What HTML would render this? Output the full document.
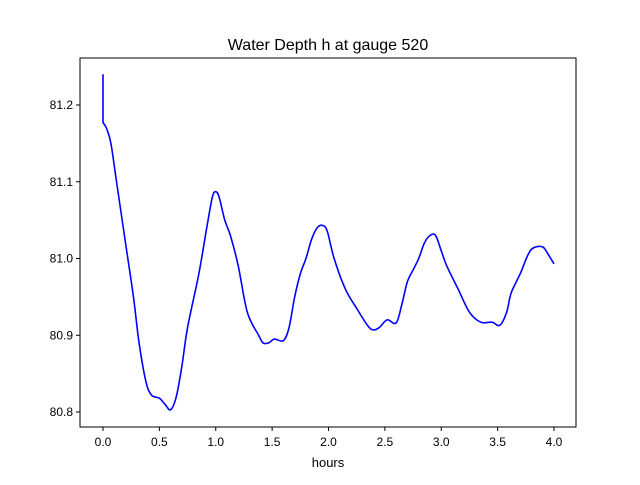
<!DOCTYPE html>
<html><head><meta charset="utf-8"><style>
body{margin:0;background:#fff}
svg text{font-family:"Liberation Sans","DejaVu Sans",sans-serif;fill:#000}
</style></head><body>
<svg id="chart" width="640" height="480" xmlns="http://www.w3.org/2000/svg">
<rect width="640" height="480" fill="#fff"/>
<text x="328" y="50" font-size="16" text-anchor="middle">Water Depth h at gauge 520</text>
<g id="ticks"></g>
<path id="line" fill="none" stroke="#0000ff" stroke-width="1.6" stroke-linejoin="round"/>
<rect x="80" y="58" width="496" height="369" fill="none" stroke="#000" stroke-width="1"/>
<text x="328" y="467" font-size="13" text-anchor="middle">hours</text>
</svg>
<script>
const times=[0,0,0.03,0.07,0.12,0.2,0.27,0.32,0.38,0.43,0.5,0.55,0.6,0.65,0.7,0.75,0.85,0.92,0.97,1.0,1.03,1.08,1.13,1.2,1.28,1.38,1.42,1.47,1.52,1.6,1.65,1.7,1.75,1.8,1.85,1.9,1.95,1.99,2.05,2.15,2.25,2.35,2.4,2.45,2.52,2.6,2.65,2.7,2.75,2.8,2.85,2.9,2.95,3.0,3.05,3.15,3.25,3.35,3.45,3.52,3.58,3.62,3.7,3.77,3.82,3.9,3.95,4.0];
const depths=[81.24,81.177,81.17,81.15,81.10,81.02,80.95,80.89,80.84,80.822,80.818,80.81,80.803,80.82,80.86,80.91,80.98,81.04,81.08,81.087,81.08,81.05,81.03,80.99,80.93,80.9,80.89,80.89,80.895,80.893,80.91,80.95,80.98,81.0,81.025,81.04,81.043,81.035,81.0,80.96,80.935,80.912,80.907,80.91,80.92,80.916,80.94,80.97,80.985,81.0,81.02,81.03,81.03,81.01,80.99,80.96,80.93,80.917,80.917,80.913,80.93,80.955,80.98,81.005,81.014,81.015,81.005,80.993];
const xTicks=[0,0.5,1,1.5,2,2.5,3,3.5,4];
const yTicks=[80.8,80.9,81.0,81.1,81.2];
const X=v=>103+v*112.75;
const Y=v=>412-(v-80.8)*767.5;
const NS="http://www.w3.org/2000/svg";
const g=document.getElementById('ticks');
function mk(t,a){const e=document.createElementNS(NS,t);for(const k in a)e.setAttribute(k,a[k]);g.appendChild(e);return e;}
xTicks.forEach(v=>{
  const l=mk('line',{x1:X(v),x2:X(v),y1:427,y2:431,stroke:'#000'});
  
  
  const t=mk('text',{x:X(v),y:446,'font-size':12,'text-anchor':'middle'});
  
  
  t.textContent=v.toFixed(1);
});
yTicks.forEach(v=>{
  const l=mk('line',{x1:76,x2:80,y1:Y(v),y2:Y(v),stroke:'#000'});
  
  
  const t=mk('text',{x:73,y:Y(v)+4,'font-size':12,'text-anchor':'end'});
  
  
  t.textContent=v.toFixed(1);
});
const P=times.map((t,i)=>[X(t),Y(depths[i])]);
let d='M'+P[0][0]+','+P[0][1]+' L'+P[1][0]+','+P[1][1];
for(let i=1;i<P.length-1;i++){
  const p0=P[Math.max(1,i-1)],p1=P[i],p2=P[i+1],p3=P[Math.min(P.length-1,i+2)];
  const c1=[p1[0]+(p2[0]-p0[0])/6,p1[1]+(p2[1]-p0[1])/6];
  const c2=[p2[0]-(p3[0]-p1[0])/6,p2[1]-(p3[1]-p1[1])/6];
  d+=' C'+c1[0]+','+c1[1]+' '+c2[0]+','+c2[1]+' '+p2[0]+','+p2[1];
}
document.getElementById('line').setAttribute('d',d);
</script>
</body></html>
